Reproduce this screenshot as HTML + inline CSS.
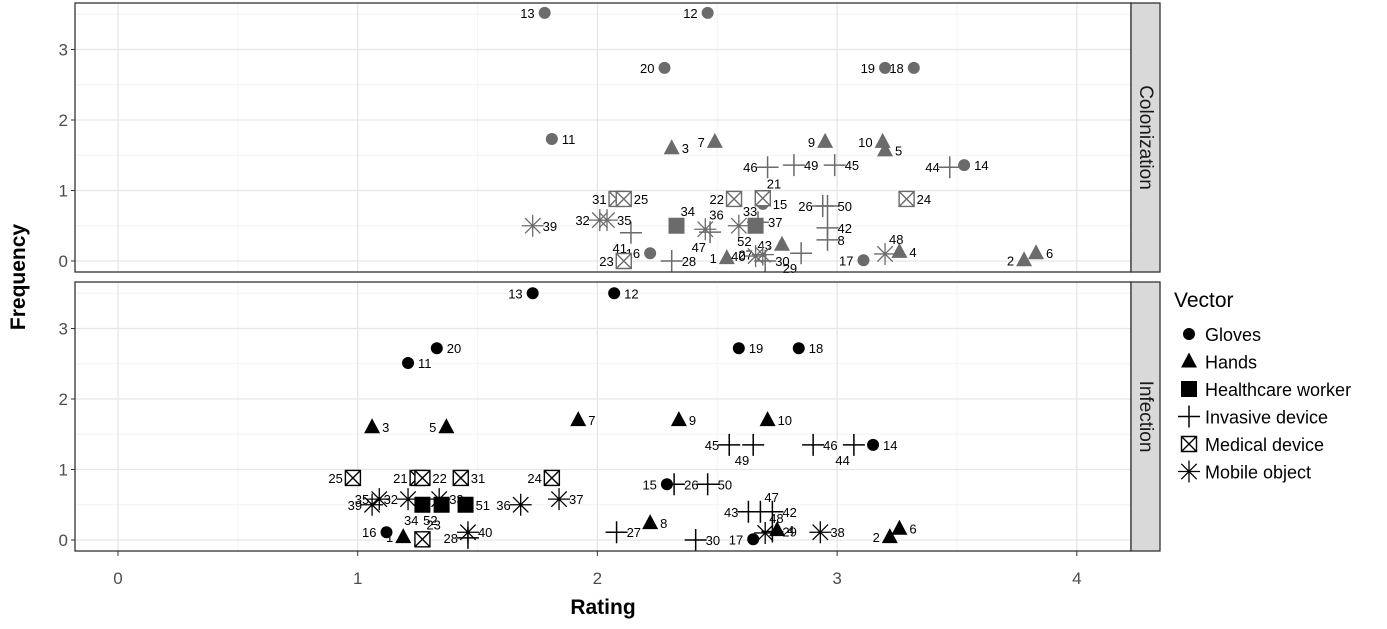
<!DOCTYPE html>
<html><head><meta charset="utf-8"><style>
body{margin:0;background:#fff;font-family:"Liberation Sans",Arial,sans-serif}
svg text{font-family:"Liberation Sans",Arial,sans-serif}
</style></head><body>
<svg id="c" width="1387" height="624" xmlns="http://www.w3.org/2000/svg"></svg>
<script>
// ---- data: [rating, frequency, id, labelSide] ----
const colGloves=[[1.78,3.52,'13','l'],[2.46,3.52,'12','l'],[1.81,1.73,'11','r'],[2.28,2.74,'20','l'],[3.20,2.74,'19','l'],[3.32,2.74,'18','l'],[3.53,1.36,'14','r'],[2.69,0.81,'15','r'],[2.22,0.11,'16','l'],[3.11,0.01,'17','l']];
const colHands=[[2.31,1.60,'3','r'],[2.49,1.69,'7','l'],[2.95,1.69,'9','l'],[3.19,1.69,'10','l'],[3.20,1.57,'5','r'],[2.54,0.04,'1','l'],[2.77,0.23,'43','l'],[3.26,0.13,'4','r'],[3.78,0.01,'2','l'],[3.83,0.11,'6','r']];
const colHcw=[[2.33,0.50,'34','t'],[2.66,0.50,'52','b']];
const colInv=[[2.71,1.33,'46','l'],[2.82,1.36,'49','r'],[2.99,1.36,'45','r'],[3.47,1.33,'44','l'],[2.94,0.78,'26','l'],[2.96,0.78,'50','r'],[2.14,0.40,'41','b'],[2.47,0.41,'47','b'],[2.96,0.47,'42','r'],[2.31,0.00,'28','r'],[2.85,0.11,'29','b'],[2.70,0.00,'30','r'],[2.67,0.55,'37','r'],[2.96,0.30,'8','r']];
const colMed=[[2.08,0.88,'31','l'],[2.11,0.88,'25','r'],[2.57,0.88,'22','l'],[2.69,0.89,'21','t'],[3.29,0.88,'24','r'],[2.11,0.00,'23','l']];
const colMob=[[1.73,0.50,'39','r'],[2.01,0.58,'32','l'],[2.04,0.58,'35','r'],[2.59,0.50,'33','t'],[2.69,0.09,'27','l'],[3.20,0.10,'48','t'],[2.45,0.45,'36','t'],[2.66,0.07,'40','l']];

const infGloves=[[1.73,3.50,'13','l'],[2.07,3.50,'12','r'],[1.21,2.51,'11','r'],[1.33,2.72,'20','r'],[2.59,2.72,'19','r'],[2.84,2.72,'18','r'],[3.15,1.35,'14','r'],[2.29,0.79,'15','l'],[1.12,0.11,'16','l'],[2.65,0.01,'17','l']];
const infHands=[[1.06,1.60,'3','r'],[1.37,1.60,'5','l'],[1.92,1.70,'7','r'],[2.34,1.70,'9','r'],[2.71,1.70,'10','r'],[2.22,0.24,'8','r'],[1.19,0.04,'1','l'],[2.75,0.14,'4','r'],[3.22,0.04,'2','l'],[3.26,0.16,'6','r']];
const infHcw=[[1.27,0.50,'34','b'],[1.35,0.50,'52','b'],[1.45,0.50,'51','r']];
const infInv=[[2.55,1.35,'45','l'],[2.65,1.35,'49','b'],[2.90,1.35,'46','r'],[3.07,1.35,'44','b'],[2.32,0.79,'26','r'],[2.46,0.79,'50','r'],[2.63,0.40,'43','l'],[2.68,0.40,'47','t'],[2.73,0.40,'42','r'],[2.08,0.11,'27','r'],[2.41,0.00,'30','r'],[1.46,0.03,'28','l'],[2.73,0.12,'29','r']];
const infMed=[[0.98,0.88,'25','l'],[1.25,0.88,'21','l'],[1.27,0.88,'22','r'],[1.43,0.88,'31','r'],[1.81,0.88,'24','l'],[1.27,0.01,'23','t']];
const infMob=[[1.09,0.58,'35','l'],[1.21,0.58,'32','l'],[1.06,0.50,'39','l'],[1.34,0.58,'33','r'],[1.46,0.11,'40','r'],[1.68,0.50,'36','l'],[1.84,0.58,'37','r'],[2.70,0.10,'48','t'],[2.93,0.11,'38','r']];

const xTicks=[0,1,2,3,4];
const yTicks=[0,1,2,3];
const legendLabels=['Gloves','Hands','Healthcare worker','Invasive device','Medical device','Mobile object'];
const shapes=['circle','triangle','square','plus','boxx','star'];

const NS='http://www.w3.org/2000/svg';
const svg=document.getElementById('c');
function el(t,a,p){const e=document.createElementNS(NS,t);for(const k in a)e.setAttribute(k,a[k]);(p||svg).appendChild(e);return e;}
const X0=75,X1=1131;
const xs=v=>118+239.7*v;
const panels=[{top:3,bot:272,zero:261,strip:'Colonization',col:'#6b6b6b',name:'colonization',sets:[colGloves,colHands,colHcw,colInv,colMed,colMob]},
{top:282,bot:551,zero:540,strip:'Infection',col:'#000',name:'infection',sets:[infGloves,infHands,infHcw,infInv,infMed,infMob]}];
const YS=70.5;

function marker(g,shape,cx,cy,col,s){
  s=s||1;
  if(shape==='circle')return el('circle',{cx,cy,r:6*s,fill:col},g);
  if(shape==='triangle')return el('polygon',{points:`${cx},${cy-9*s} ${cx-8*s},${cy+6*s} ${cx+8*s},${cy+6*s}`,fill:col},g);
  if(shape==='square')return el('rect',{x:cx-8*s,y:cy-8*s,width:16*s,height:16*s,fill:col},g);
  if(shape==='plus')return el('path',{d:`M${cx-11*s},${cy}H${cx+11*s}M${cx},${cy-11*s}V${cy+11*s}`,stroke:col,'stroke-width':1.5,fill:'none'},g);
  if(shape==='boxx')return el('path',{d:`M${cx-7.5*s},${cy-7.5*s}h${15*s}v${15*s}h${-15*s}zM${cx-7.5*s},${cy-7.5*s}l${15*s},${15*s}M${cx+7.5*s},${cy-7.5*s}l${-15*s},${15*s}`,stroke:col,'stroke-width':1.4,fill:'#fff'},g);
  if(shape==='star'){const r=11*s;return el('path',{d:`M${cx-r},${cy}H${cx+r}M${cx},${cy-r}V${cy+r}M${cx-r*.7},${cy-r*.7}L${cx+r*.7},${cy+r*.7}M${cx+r*.7},${cy-r*.7}L${cx-r*.7},${cy+r*.7}`,stroke:col,'stroke-width':1.3,fill:'none'},g);}
}

panels.forEach(p=>{
  const ys=v=>p.zero-YS*v;
  const g=el('g',{});
  
  
  el('rect',{x:X0,y:p.top,width:X1-X0,height:p.bot-p.top,fill:'#fff'},g);
  for(let v=0.5;v<4.2;v+=1){el('line',{x1:xs(v),x2:xs(v),y1:p.top,y2:p.bot,stroke:'#f4f4f4','stroke-width':1},g);}
  for(let v=0.5;v<3.8;v+=1){el('line',{x1:X0,x2:X1,y1:ys(v),y2:ys(v),stroke:'#f4f4f4','stroke-width':1},g);}
  xTicks.forEach(v=>el('line',{x1:xs(v),x2:xs(v),y1:p.top,y2:p.bot,stroke:'#e6e6e6','stroke-width':1.3},g));
  yTicks.forEach(v=>{el('line',{x1:X0,x2:X1,y1:ys(v),y2:ys(v),stroke:'#e6e6e6','stroke-width':1.3},g);
    const t=el('text',{x:68,y:ys(v)+6,'text-anchor':'end','font-size':17,fill:'#4d4d4d'},g);t.textContent=v;
    el('line',{x1:71,x2:75,y1:ys(v),y2:ys(v),stroke:'#333'},g);});
  p.sets.forEach((set,si)=>{
    set.forEach(d=>{
      const cx=xs(d[0]),cy=ys(d[1]);
      const m=marker(g,shapes[si],cx,cy,p.col);
      
      
      let tx=cx+10,ty=cy+5,an='start';
      if(d[3]==='l'){tx=cx-10;an='end';}
      if(d[3]==='t'){tx=cx+4;ty=cy-10;}
      if(d[3]==='b'){tx=cx-4;ty=cy+20;an='end';}
      const t=el('text',{x:tx,y:ty,'text-anchor':an,'font-size':13,fill:'#000'},g);t.textContent=d[2];
      
      
    });
  });
  el('rect',{x:X0,y:p.top,width:X1-X0,height:p.bot-p.top,fill:'none',stroke:'#333','stroke-width':1.3},g);
  const sr=el('rect',{x:X1,y:p.top,width:29,height:p.bot-p.top,fill:'#d9d9d9',stroke:'#333','stroke-width':1.3},g);
  
  
  const cy=(p.top+p.bot)/2;
  const st=el('text',{x:X1+14.5,y:cy,transform:`rotate(90 ${X1+14.5} ${cy})`,'text-anchor':'middle','dominant-baseline':'central','font-size':19,fill:'#1a1a1a'},g);
  st.textContent=p.strip;
  
  
});
xTicks.forEach(v=>{el('line',{x1:xs(v),x2:xs(v),y1:551,y2:556,stroke:'#333'});
  const t=el('text',{x:xs(v),y:584,'text-anchor':'middle','font-size':17,fill:'#4d4d4d'});t.textContent=v;
  });
const xt=el('text',{x:603,y:614,'text-anchor':'middle','font-size':21,'font-weight':'bold'});xt.textContent='Rating';

const yt=el('text',{x:25,y:277,'text-anchor':'middle','font-size':21,'font-weight':'bold',transform:'rotate(-90 25 277)'});yt.textContent='Frequency';

const lg=el('g',{});


const lt=el('text',{x:1174,y:307,'font-size':21,fill:'#000'},lg);lt.textContent='Vector';
legendLabels.forEach((l,i)=>{const y=334+i*27.5;
  const e=el('g',{},lg);
  
  
  marker(e,shapes[i],1189,y,'#000');
  const t=el('text',{x:1205,y:y+7,'font-size':18},e);t.textContent=l;});
</script>
</body></html>
